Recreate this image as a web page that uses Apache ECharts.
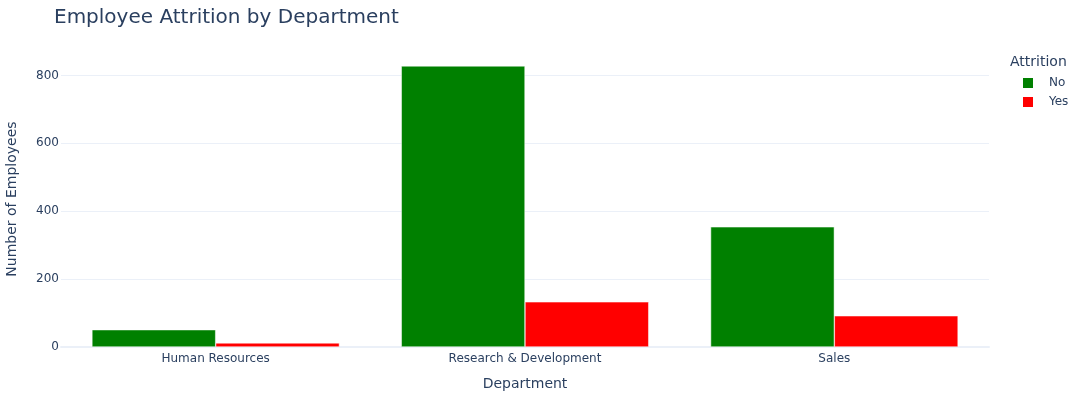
<!DOCTYPE html>
<html><head><meta charset="utf-8">
<script src="https://cdn.jsdelivr.net/npm/echarts@6/dist/echarts.min.js"></script>
<style>html,body{margin:0;padding:0;background:#fff}#c{width:1085px;height:400px}</style>
</head><body><div id="c"></div>
<script>
const departments = ['Human Resources', 'Research & Development', 'Sales'];
const attritionNo = [51, 828, 354];
const attritionYes = [12, 133, 92];
const yTicks = [0, 200, 400, 600, 800];

const font = '"DejaVu Sans", verdana, sans-serif';
const txt = '#2a3f5f';
const chart = echarts.init(document.getElementById('c'), null, {renderer: 'canvas'});
chart.setOption({
  animation: false,
  backgroundColor: '#fff',
  title: [
    {text: 'Employee Attrition by Department', left: 54, top: 8, padding: 0,
     textStyle: {fontFamily: font, fontSize: 20, fontWeight: 'normal', color: txt}},
    {text: 'Attrition', left: 1010, top: 55, padding: 0,
     textStyle: {fontFamily: font, fontSize: 14, fontWeight: 'normal', color: txt}}
  ],
  legend: {
    orient: 'vertical', left: 1021, top: 76, itemGap: 5, padding: 0,
    icon: 'rect', itemWidth: 12, itemHeight: 12,
    textStyle: {fontFamily: font, fontSize: 12, color: txt, padding: [0, 0, 0, 10]},
    data: ['No', 'Yes']
  },
  grid: {left: 61, right: 96, top: 51, bottom: 53, outerBoundsMode: 'none', containLabel: false},
  xAxis: {
    type: 'category', data: departments,
    name: 'Department', nameLocation: 'middle', nameGap: 30,
    nameTextStyle: {fontFamily: font, fontSize: 14, color: txt},
    axisLine: {show: true, lineStyle: {color: '#ebf0f8', width: 2}},
    axisTick: {show: false},
    axisLabel: {fontFamily: font, fontSize: 12, color: txt, margin: 6}
  },
  yAxis: {
    type: 'value', min: 0, max: 872, interval: 200,
    name: 'Number of Employees', nameLocation: 'middle', nameGap: 42,
    nameTextStyle: {fontFamily: font, fontSize: 14, color: txt},
    axisLine: {show: false}, axisTick: {show: false},
    axisLabel: {fontFamily: font, fontSize: 12, color: txt, showMaxLabel: false, margin: 2,
      formatter: v => yTicks.includes(v) ? String(v) : ''},
    splitLine: {show: true, lineStyle: {color: ['#ebf0f8','#ebf0f8','#ebf0f8','#ebf0f8','#ebf0f8','rgba(0,0,0,0)'], width: 1}}
  },
  series: [
    {name: 'No', type: 'bar', data: attritionNo, barGap: '0%', barCategoryGap: '20%',
     itemStyle: {color: '#008000', borderColor: '#ffffff', borderWidth: 0.5}},
    {name: 'Yes', type: 'bar', data: attritionYes, barGap: '0%', barCategoryGap: '20%',
     itemStyle: {color: '#ff0000', borderColor: '#ffffff', borderWidth: 0.5}}
  ]
});
</script></body></html>
